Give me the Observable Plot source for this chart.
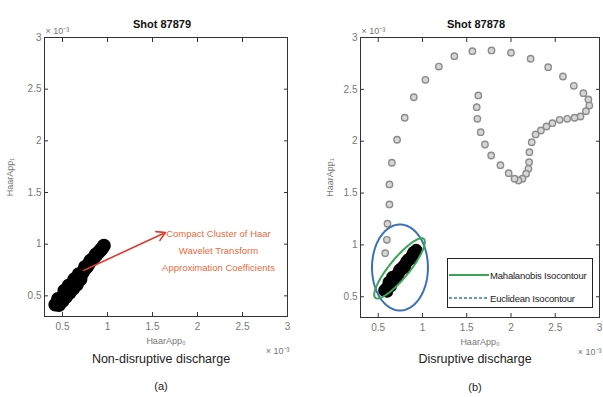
<!DOCTYPE html>
<html><head><meta charset="utf-8">
<script src="https://cdn.jsdelivr.net/npm/d3@7"></script>
<script src="https://cdn.jsdelivr.net/npm/@observablehq/plot@0.6"></script>
<style>
body{margin:0;background:#fff;}
#wrap{position:relative;width:603px;height:397px;overflow:hidden;background:#fff;}
#left,#right{position:absolute;top:0;}
#left{left:0;} #right{left:300px;}
#legend{position:absolute;left:447px;top:258px;width:144px;height:48px;border:1.5px solid #222;background:#fff;
 font-family:"Liberation Sans",sans-serif;font-size:9.5px;color:#222;white-space:nowrap;letter-spacing:-0.2px;}
#legend .row{position:absolute;left:0;height:14px;display:flex;align-items:center;}
#legend svg{margin-right:1px;}
</style></head>
<body><div id="wrap"><div id="left"></div><div id="right"></div>
<div id="legend">
 <div class="row" style="top:9px"><svg width="41" height="6"><line x1="1" y1="3" x2="41" y2="3" stroke="#3aa655" stroke-width="2"/></svg><span>Mahalanobis Isocontour</span></div>
 <div class="row" style="top:32px"><svg width="41" height="6"><line x1="1" y1="3" x2="41" y2="3" stroke="#3b6fb6" stroke-width="1.5" stroke-dasharray="3,2"/></svg><span>Euclidean Isocontour</span></div>
</div></div>
<script>
const FONT = '"Liberation Sans",Arial,sans-serif';
const xTicks = [0.5, 1, 1.5, 2, 2.5, 3];
const yTicks = [0.5, 1, 1.5, 2, 2.5, 3];
const domain = [0.3, 3];

// Shot 87879 (non-disruptive) – compact cluster, values ×10^-3
const leftX = [0.42,0.44,0.46,0.48,0.50,0.52,0.54,0.56,0.58,0.60,0.62,0.64,0.66,0.68,0.70,0.72,0.74,0.76,0.78,0.80,0.82,0.84,0.86,0.88,0.90,0.92,0.94,0.96,
               0.46,0.50,0.54,0.58,0.62,0.66,0.70,0.45,0.52,0.57,0.63,0.68,0.75,0.81,0.87,0.93];
const leftY = [0.415,0.43,0.45,0.47,0.49,0.51,0.53,0.55,0.57,0.59,0.61,0.63,0.65,0.67,0.69,0.72,0.75,0.77,0.79,0.82,0.84,0.86,0.88,0.90,0.92,0.94,0.96,0.985,
               0.41,0.45,0.49,0.53,0.57,0.61,0.66,0.47,0.55,0.60,0.66,0.71,0.78,0.84,0.90,0.95];

// Shot 87878 (disruptive) – trajectory and cluster, values ×10^-3
const loopX = [0.579,0.598,0.605,0.627,0.627,0.654,0.713,0.799,0.902,1.033,1.185,1.36,1.564,1.78,2.0,2.222,2.42,2.587,2.71,2.818,2.874,2.885,2.847,2.785,2.718,2.635,2.55,2.468,2.401,2.338,2.278,2.234,2.208,2.205,2.197,2.171,2.13,2.085,2.04,1.974,1.881,1.776,1.706,1.658,1.62,1.613,1.631];
const loopY = [0.92,1.049,1.204,1.39,1.583,1.792,2.014,2.226,2.424,2.592,2.72,2.82,2.868,2.875,2.853,2.795,2.714,2.624,2.534,2.463,2.402,2.344,2.289,2.238,2.226,2.216,2.206,2.174,2.142,2.103,2.065,1.99,1.894,1.798,1.734,1.686,1.638,1.621,1.638,1.692,1.769,1.862,1.968,2.087,2.216,2.328,2.441];
const rightX = [0.57,0.59,0.61,0.63,0.65,0.67,0.69,0.71,0.73,0.75,0.77,0.79,0.81,0.83,0.85,0.87,0.89,0.91,0.93,
                0.60,0.64,0.68,0.72,0.76,0.80,0.84,0.88,0.62,0.66,0.74,0.82,0.90];
const rightY = [0.56,0.58,0.60,0.62,0.64,0.67,0.69,0.71,0.73,0.75,0.78,0.80,0.82,0.84,0.86,0.88,0.91,0.93,0.95,
                0.55,0.60,0.66,0.69,0.77,0.78,0.86,0.87,0.64,0.69,0.76,0.84,0.93];

// isocontour parameters (center, half-axis vectors), ×10^-3
const mahalCenter = [0.741, 0.774];
const mahalAxisA = [0.273, 0.284];
const mahalAxisB = [0.085, -0.061];
const euclCenter = [0.746, 0.782];
const euclAxisA = [0.316, 0.0];
const euclAxisB = [0.0, 0.415];

const titles = ["Shot 87879", "Shot 87878"];
const captions = ["Non-disruptive discharge", "Disruptive discharge"];
const letters = ["(a)", "(b)"];
const xLabel = "HaarApp₀";
const yLabel = "HaarApp₁";
const exponent = "× 10⁻³";
const annotation = "Compact Cluster of Haar\nWavelet Transform\nApproximation Coefficients";
const arrowFrom = [0.733, 0.745];
const arrowTo = [1.644, 1.113];

const pts = (xs, ys) => xs.map((x, i) => ({x, y: ys[i]}));
const ellipse = (c, a, b) => d3.range(0, 361, 4).map(t => {
  const r = t * Math.PI / 180;
  return {x: c[0] + a[0]*Math.cos(r) + b[0]*Math.sin(r), y: c[1] + a[1]*Math.cos(r) + b[1]*Math.sin(r)};
});
const fmt = d => String(d);

function axes() {
  return [
    Plot.axisX(xTicks, {anchor: "bottom", tickSize: -4, tickPadding: 10, tickFormat: fmt, stroke: "#333", fill: "#777", fontSize: 10, label: null}),
    Plot.axisX(xTicks, {anchor: "top", tickSize: -4, tickFormat: () => "", stroke: "#333", label: null}),
    Plot.axisY(yTicks, {anchor: "left", tickSize: -4, tickPadding: 7, tickFormat: fmt, stroke: "#333", fill: "#777", fontSize: 10, label: null}),
    Plot.axisY(yTicks, {anchor: "right", tickSize: -4, tickFormat: () => "", stroke: "#333", label: null}),
    Plot.frame({stroke: "#333"})
  ];
}
function texts(i, dxTitle, dxCap, dyCap, dxExp, dxYl) {
  return [
    Plot.text([titles[i]], {frameAnchor: "top", textAnchor: "middle", dx: dxTitle, dy: -17, fontWeight: "bold", fontSize: 11, fill: "#111"}),
    Plot.text([exponent], {frameAnchor: "top-left", textAnchor: "start", dx: 1, dy: -10, fontSize: 9, fill: "#777"}),
    Plot.text([exponent], {frameAnchor: "bottom-right", textAnchor: "end", dx: dxExp, dy: 37, fontSize: 9, fill: "#777"}),
    Plot.text([xLabel], {frameAnchor: "bottom", textAnchor: "middle", dy: 27, fontSize: 9, fill: "#777"}),
    Plot.text([yLabel], {frameAnchor: "left", textAnchor: "middle", dx: dxYl, rotate: -90, fontSize: 9, fill: "#777"}),
    Plot.text([captions[i]], {frameAnchor: "bottom", textAnchor: "middle", dx: dxCap, dy: dyCap, fontSize: 12.5, fill: "#222"}),
    Plot.text([letters[i]], {frameAnchor: "bottom", textAnchor: "middle", dx: dxCap, dy: 73, fontSize: 11, fill: "#222"})
  ];
}

const left = Plot.plot({
  width: 300, height: 397,
  marginLeft: 44, marginRight: 13, marginTop: 37, marginBottom: 81,
  x: {domain, axis: null},
  y: {domain, axis: null},
  style: {fontFamily: FONT, fontSize: "10px", background: "transparent", overflow: "visible"},
  marks: [
    Plot.dot(pts(leftX, leftY), {x: "x", y: "y", r: 6.2, fill: "#000", stroke: "#000"}),
    Plot.arrow([{}], {x1: arrowFrom[0], y1: arrowFrom[1], x2: arrowTo[0], y2: arrowTo[1], stroke: "#e0392b", strokeWidth: 1.6, headLength: 9}),
    Plot.text([annotation], {x: 2.233, y: 0.96, textAnchor: "middle", lineHeight: 1.8, fontSize: 9.5, fill: "#ec6a3c"}),
    ...axes(),
    ...texts(0, -4, -5, 46, 2, -34)
  ]
});
document.getElementById("left").append(left);

const right = Plot.plot({
  width: 303, height: 397,
  marginLeft: 60, marginRight: 4, marginTop: 37, marginBottom: 80,
  x: {domain, axis: null},
  y: {domain, axis: null},
  style: {fontFamily: FONT, fontSize: "10px", background: "transparent", overflow: "visible"},
  marks: [
    Plot.dot(pts(loopX, loopY), {x: "x", y: "y", r: 3.2, fill: "#d6d6d6", stroke: "#8c8c8c", strokeWidth: 1.4}),
    Plot.dot(pts(rightX, rightY), {x: "x", y: "y", r: 5.5, fill: "#000", stroke: "#000"}),
    Plot.line(ellipse(euclCenter, euclAxisA, euclAxisB), {x: "x", y: "y", stroke: "#3b6fb6", strokeWidth: 2, curve: "linear"}),
    Plot.line(ellipse(mahalCenter, mahalAxisA, mahalAxisB), {x: "x", y: "y", stroke: "#3aa655", strokeWidth: 2, curve: "linear"}),
    ...axes(),
    ...texts(1, -4, -5, 45, 2, -30)
  ]
});
document.getElementById("right").append(right);
</script></body></html>
